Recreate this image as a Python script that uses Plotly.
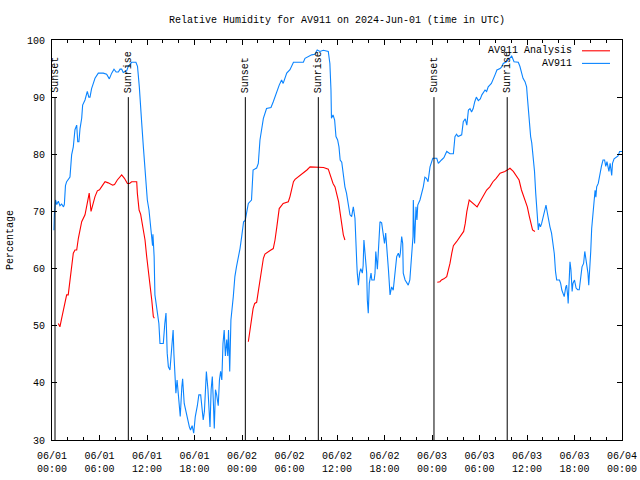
import pandas as pd
import plotly.graph_objects as go

BASE = pd.Timestamp("2024-06-01 00:00")

# AV911 observations (hours since 06/01 00:00 UTC, relative humidity %)
obs_hours = [0.25, 0.3, 0.45, 0.6, 0.8, 1.0, 1.22, 1.45, 1.56, 1.7, 1.85, 2.27, 2.48, 2.69, 2.9, 3.12, 3.25, 3.4,
             3.54, 3.75, 3.87, 4.17, 4.46, 4.65, 4.8, 5.0, 5.22, 5.43, 5.85, 6.48, 6.9, 7.1, 7.24, 7.54, 7.83, 8.1,
             8.38, 8.6, 8.8, 9.0, 9.43, 9.64, 10.06, 10.6, 10.8, 11.03, 11.2, 11.33, 11.54, 11.75, 11.87, 12.04,
             12.25, 12.5, 12.7, 12.75, 12.8, 12.9, 13.0, 13.15, 13.3, 13.5, 13.64, 14.06, 14.25, 14.4, 14.55, 14.7,
             14.9, 15.1, 15.3, 15.4, 15.5, 15.65, 15.8, 15.95, 16.2, 16.4, 16.5, 16.7, 16.9, 17.1, 17.35, 17.5,
             17.7, 17.9, 18.1, 18.36, 18.55, 18.78, 18.95, 19.1, 19.25, 19.4, 19.5, 19.7, 19.96, 20.1, 20.25, 20.4,
             20.5, 20.65, 20.8, 21.0, 21.15, 21.3, 21.45, 21.6, 21.75, 21.9, 22.07, 22.2, 22.3, 22.45, 22.6, 22.9,
             23.1, 23.3, 23.55, 23.75, 23.96, 24.2, 24.4, 24.8, 25.2, 25.4, 25.85, 26.06, 26.27, 26.5, 26.7, 27.1,
             27.66, 27.95, 28.17, 28.38, 28.7, 29.0, 29.2, 29.65, 30.06, 30.5, 31.1, 31.75, 31.96, 32.4, 32.8,
             33.2, 33.5, 33.85, 34.27, 34.9, 35.1, 35.24, 35.3, 35.5, 35.7, 35.87, 36.08, 36.25, 36.4, 36.6, 36.7,
             36.9, 37.0, 37.2, 37.4, 37.64, 37.85, 38.06, 38.27, 38.4, 38.5, 38.56, 38.7, 38.85, 39.0, 39.2, 39.3,
             39.4, 39.6, 39.75, 39.83, 39.95, 40.08, 40.3, 40.4, 40.7, 40.8, 40.9, 41.1, 41.35, 41.43, 41.64,
             41.85, 42.0, 42.15, 42.27, 42.5, 42.7, 42.9, 43.1, 43.3, 43.54, 43.75, 43.9, 44.0, 44.17, 44.3,
             44.37, 44.6, 44.8, 45.0, 45.2, 45.43, 45.6, 45.64, 45.8, 45.98, 46.1, 46.2, 46.48, 46.9, 47.1, 47.3,
             47.5, 47.75, 48.1, 48.6, 48.8, 49.2, 49.5, 49.86, 50.27, 50.7, 50.9, 51.1, 51.3, 51.75, 51.95, 52.2,
             52.4, 52.6, 52.8, 53.0, 53.2, 53.4, 53.6, 53.85, 54.1, 54.3, 54.7, 54.9, 55.1, 55.3, 55.5, 55.96,
             56.2, 56.6, 56.8, 57.0, 57.4, 57.8, 58.07, 58.36, 58.9, 59.1, 59.3, 59.5, 59.75, 59.95, 60.04, 60.2,
             60.3, 60.46, 60.6, 60.8, 60.95, 61.1, 61.2, 61.3, 61.43, 61.55, 61.7, 61.85, 62.05, 62.25, 62.4,
             62.55, 62.7, 62.9, 63.1, 63.3, 63.45, 63.6, 63.75, 64.1, 64.25, 64.4, 64.55, 64.7, 64.9, 65.0, 65.15,
             65.2, 65.35, 65.43, 65.55, 65.7, 65.8, 66.0, 66.2, 66.4, 66.6, 66.7, 66.8, 66.95, 67.15, 67.3, 67.4,
             67.55, 67.7, 67.8, 67.9, 68.05, 68.17, 68.4, 68.6, 68.7, 68.8, 69.0, 69.2, 69.4, 69.6, 69.8, 69.95,
             70.1, 70.35, 70.5, 70.7, 70.8, 71.0, 71.2, 71.5, 71.7, 72.0]
obs_rh = [66.7, 69.5, 72.0, 71.2, 71.8, 71.0, 71.3, 70.8, 71.2, 74.5, 75.2, 76.0, 79.9, 81.3, 84.3, 85.1, 82.2, 82.2,
          84.5, 86.3, 88.6, 89.5, 91.0, 90.0, 90.0, 91.5, 92.4, 93.3, 94.2, 94.2, 94.0, 93.6, 93.2, 94.2, 94.9, 94.4,
          94.4, 94.9, 94.9, 94.3, 94.6, 95.4, 96.1, 96.1, 95.4, 91.8, 89.0, 85.5, 81.3, 77.25, 75.0, 72.0,
          70.25, 66.75, 64.0, 66.0, 64.4, 62.1, 55.4, 53.6, 51.9, 50.4, 46.9, 46.9, 50.4, 52.2, 45.2, 42.8,
          42.25, 46.3, 49.25, 45.0, 41.1, 38.2, 40.5, 37.6, 34.1, 39.3, 40.7, 36.4, 35.0, 34.1, 32.3, 31.75,
          32.5, 31.2, 34.1, 36.0, 37.9, 37.9, 36.0, 33.5, 35.0, 39.3, 42.0, 38.8, 32.3, 38.8, 41.1, 36.0,
          32.0, 38.8, 37.9, 36.0, 40.5, 42.0, 40.5, 46.9, 49.25, 44.7, 47.6, 44.7, 49.25, 42.0, 51.0, 55.1,
          58.6, 60.3, 62.0, 63.5, 65.6, 68.2, 68.4, 71.4, 72.0, 77.25, 77.6, 78.4, 82.5, 84.8, 86.3, 88.0,
          88.2, 89.2, 90.1, 91.0, 92.1, 93.0, 92.4, 94.2, 94.8, 96.1, 96.1, 96.1, 96.8, 97.1, 97.4,
          97.5, 98.25, 98.0, 98.2, 98.0, 95.9, 91.25, 86.3, 86.9, 86.0, 83.1, 82.5, 81.3, 79.0, 78.6, 77.4,
          76.0, 74.3, 73.2, 71.4, 69.4, 69.1, 70.8, 68.8, 65.6, 60.9, 59.2, 57.1, 59.2, 60.0, 59.2, 60.5,
          65.0, 62.1, 59.2, 54.5, 52.2, 57.4, 59.2, 58.0, 58.0, 59.2, 63.0, 59.9, 65.6, 68.2, 68.0,
          65.6, 64.4, 66.2, 63.25, 59.75, 55.4, 56.8, 56.2, 59.2, 62.1, 62.7, 61.9, 62.7, 65.6, 64.4,
          59.2, 58.0, 57.4, 57.1, 58.0, 62.1, 65.6, 72.0, 64.4, 70.8, 68.5, 71.1, 72.0, 74.3, 76.0, 75.8,
          75.2, 77.8, 79.3, 79.3, 78.4, 79.0, 79.4, 80.5, 80.1, 80.1, 83.1, 83.5, 83.1, 83.4, 85.7, 86.2,
          85.1, 87.75, 88.0, 87.4, 88.0, 89.2, 90.0, 89.4, 89.7, 90.4, 91.25, 91.0, 91.8, 92.1, 92.4, 93.9,
          94.75, 95.0, 95.3, 95.9, 96.2, 96.8, 97.2, 96.2, 96.1, 95.4, 94.3, 93.3, 92.7, 91.8, 90.1, 87.2,
          85.1, 83.1, 82.0, 79.6, 77.0, 73.2, 71.4, 68.5, 66.75, 67.9, 67.3, 67.9, 69.0, 69.9, 71.1,
          69.9, 68.5, 67.3, 66.2, 64.4, 62.6, 59.5, 58.0, 58.0, 57.4, 56.25, 55.7, 55.1, 56.8, 57.1, 55.1,
          53.9, 58.6, 61.2, 59.8, 56.0, 57.4, 58.0, 56.6, 56.3, 56.3, 57.1, 58.6, 60.3, 60.9, 63.0, 62.1,
          60.3, 59.2, 57.1, 59.2, 63.0, 67.0, 70.8, 73.7, 72.5, 74.3, 74.9, 76.7, 77.9, 79.0, 79.0, 77.9,
          78.7, 77.0, 78.4, 76.3, 78.4, 79.2, 79.4, 79.7, 80.5, 80.5]

# AV911 Analysis (None marks gaps between the three daily segments)
ana_hours = [0.8, 1.0, 1.22, 1.43, 1.64, 1.85, 2.05, 2.27, 2.48, 2.69, 2.9, 3.12, 3.33, 3.54, 3.75, 4.17, 4.38,
             4.7, 4.93, 5.1, 5.43, 5.73, 6.0, 6.4, 6.7, 7.1, 7.66, 7.9, 8.25, 8.8, 9.15, 9.52, 9.8, 10.06, 10.7,
             10.78, 11.0, 11.2, 11.4, 11.6, 11.75, 11.96, 12.17, 12.38, 12.6, 12.8, 12.93,
             18.0,
             24.8, 25.0, 25.2, 25.4, 25.6, 25.85, 26.06, 26.27, 26.5, 26.7, 26.9, 27.3, 27.6, 27.95, 28.17, 28.4,
             28.7, 29.2, 29.85, 30.06, 30.3, 30.5, 30.7, 31.1, 31.75, 32.2, 32.6, 33.4, 34.3, 34.9, 35.2, 35.5,
             35.75, 35.96, 36.2, 36.4, 36.6, 36.8, 37.0,
             42.0,
             48.67, 49.0, 49.2, 49.5, 49.86, 50.07, 50.27, 50.5, 50.7, 51.1, 51.3, 51.75, 52.0, 52.2, 52.4, 52.7,
             53.2, 53.7, 54.06, 54.5, 54.9, 55.3, 55.7, 56.1, 56.6, 57.2, 57.85, 58.27, 58.7, 59.0, 59.3, 59.6,
             59.8, 60.04, 60.3, 60.5, 60.7, 61.0]
ana_rh = [50.4, 49.8, 51.3, 52.75, 54.5, 55.4, 55.4, 58.0, 59.75, 62.7, 63.25, 63.25, 65.3, 66.5, 68.2, 69.4, 71.1,
          73.2, 70.0, 71.0, 72.6, 73.6, 73.8, 74.6, 75.2, 75.0, 74.6, 74.7, 75.5, 76.4, 75.8, 74.9, 74.9, 75.2, 75.2,
          73.2, 70.25, 69.5, 67.9, 66.2, 65.0, 62.1, 59.75, 56.8, 54.5, 51.6, 51.3,
          None,
          47.2, 49.25, 51.3, 53.0, 53.9, 54.1, 56.0, 58.0, 59.5, 61.8, 62.55, 63.0, 63.2, 63.5, 65.0, 67.3,
          70.5, 71.4, 71.7, 72.6, 73.8, 75.2, 75.6, 76.0, 76.7, 77.25, 77.8, 77.7, 77.7, 77.4, 76.0, 74.9,
          74.3, 73.2, 71.7, 69.7, 67.3, 65.9, 65.0,
          None,
          57.6, 57.7, 58.0, 58.2, 58.6, 59.75, 60.9, 62.7, 64.0, 64.7, 65.1, 65.9, 66.5, 67.9, 69.95, 72.0,
          71.4, 70.8, 71.7, 72.9, 73.75, 74.3, 75.2, 75.8, 76.7, 77.0, 77.55, 77.0, 76.0, 75.5, 73.75, 72.6,
          72.0, 70.8, 69.1, 67.9, 66.75, 66.5]

# Sunset / sunrise markers (hours since 06/01 00:00 UTC)
sun_hours = [0.38, 9.64, 24.42, 33.64, 48.25, 57.5]
sun_labels = ["Sunset", "Sunrise", "Sunset", "Sunrise", "Sunset", "Sunrise"]

y_ticks = [30, 40, 50, 60, 70, 80, 90, 100]

FONT = "Liberation Mono, DejaVu Sans Mono, monospace"
BLUE = "#0a84ff"
RED = "#ff0000"


def to_time(hours):
    return [BASE + pd.Timedelta(hours=h) for h in hours]


fig = go.Figure()
fig.add_trace(go.Scatter(x=to_time(ana_hours), y=ana_rh, mode="lines", name="AV911 Analysis",
                         line=dict(color=RED, width=1.1), connectgaps=False))
fig.add_trace(go.Scatter(x=to_time(obs_hours), y=obs_rh, mode="lines", name="AV911",
                         line=dict(color=BLUE, width=1.1)))

for t, lab in zip(to_time(sun_hours), sun_labels):
    fig.add_shape(type="line", xref="x", yref="y", x0=t, x1=t, y0=30, y1=90,
                  line=dict(color="black", width=1))
    fig.add_annotation(x=t, y=90.4, xref="x", yref="y", text=lab, textangle=-90,
                       showarrow=False, xanchor="center", yanchor="bottom", xshift=1,
                       font=dict(family=FONT, size=10, color="black"))

# legend drawn gnuplot-style (text left, sample right)
for name, col, yp in [("AV911 Analysis", RED, 0.973), ("AV911", BLUE, 0.9415)]:
    fig.add_annotation(x=0.9158, y=yp, xref="paper", yref="paper", text=name, showarrow=False,
                       xanchor="right", yanchor="middle", font=dict(family=FONT, size=10, color="black"))
    fig.add_shape(type="line", xref="paper", yref="paper", x0=0.9298, x1=0.979, y0=yp, y1=yp,
                  line=dict(color=col, width=1.1))

fig.add_annotation(x=-0.0737, y=0.5, xref="paper", yref="paper", text="Percentage", textangle=-90,
                   showarrow=False, xanchor="center", yanchor="middle",
                   font=dict(family=FONT, size=10, color="black"))

fig.update_layout(
    width=640, height=480,
    margin=dict(l=52, r=18, t=40, b=40),
    paper_bgcolor="white", plot_bgcolor="white",
    showlegend=False,
    font=dict(family=FONT, size=10, color="black"),
    title=dict(text="Relative Humidity for AV911 on 2024-Jun-01 (time in UTC)", x=0.5, xref="paper",
               xanchor="center", y=1 - 19 / 480, yanchor="middle",
               font=dict(family=FONT, size=10, color="black")),
    xaxis=dict(type="date", range=[BASE, BASE + pd.Timedelta(hours=72)], automargin=False,
               tick0=BASE, dtick=6 * 3600 * 1000, tickformat="%m/%d<br>%H:%M",
               ticks="inside", ticklen=5, tickcolor="black", tickwidth=1, ticklabelstandoff=6,
               showline=True, linecolor="black", linewidth=1, mirror="allticks",
               showgrid=False, zeroline=False,
               minor=dict(dtick=2 * 3600 * 1000, ticks="inside", ticklen=3, tickcolor="black",
                          showgrid=False),
               tickfont=dict(family=FONT, size=10, color="black")),
    yaxis=dict(range=[30, 100], tickvals=y_ticks, ticks="inside", ticklen=5, tickcolor="black",
               showline=True, linecolor="black", linewidth=1, mirror="allticks", automargin=False,
               showgrid=False, zeroline=False, ticklabelstandoff=4,
               tickfont=dict(family=FONT, size=10, color="black")),
)

fig.write_html("out.html")
